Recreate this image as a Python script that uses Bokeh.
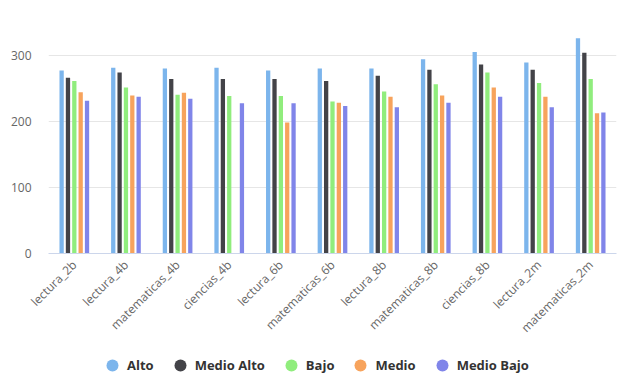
import math
from bokeh.plotting import figure
from bokeh.layouts import column
from bokeh.models import ColumnDataSource, FactorRange, Range1d, Legend, LegendItem
from bokeh.transform import dodge
from bokeh.embed import file_html
from bokeh.resources import INLINE

categories = ["lectura_2b", "lectura_4b", "matematicas_4b", "ciencias_4b", "lectura_6b",
              "matematicas_6b", "lectura_8b", "matematicas_8b", "ciencias_8b", "lectura_2m",
              "matematicas_2m"]
alto = [278, 282, 281, 282, 278, 281, 281, 295, 306, 290, 327]
medio_alto = [267, 275, 265, 265, 265, 262, 270, 279, 287, 279, 305]
bajo = [262, 252, 241, 239, 239, 231, 246, 257, 275, 259, 265]
medio = [245, 240, 244, float("nan"), 199, 229, 238, 240, 252, 238, 213]
medio_bajo = [232, 238, 235, 228, 228, 224, 222, 229, 238, 222, 214]

series_names = ["Alto", "Medio Alto", "Bajo", "Medio", "Medio Bajo"]
series_values = [alto, medio_alto, bajo, medio, medio_bajo]
colors = ["#7cb5ec", "#434348", "#90ed7d", "#f7a35c", "#8085e9"]

data = {"cat": categories}
for name, vals in zip(series_names, series_values):
    data[name] = vals
source = ColumnDataSource(data)

FONT = "Open Sans"
MAIN_H = 344

p = figure(x_range=FactorRange(*categories, range_padding=0),
           y_range=Range1d(0, 369),
           width=627, height=MAIN_H, output_backend="svg", toolbar_location=None,
           min_border_left=48, min_border_right=11, min_border_top=10, min_border_bottom=91)
p.outline_line_color = None
p.background_fill_color = "white"
p.border_fill_color = "white"

pitch = 0.123
bw = 0.083
for i, (name, col) in enumerate(zip(series_names, colors)):
    p.vbar(x=dodge("cat", (i - 2) * pitch, range=p.x_range), top=name, width=bw,
           source=source, fill_color=col, line_color=None)

p.xaxis.major_label_orientation = math.pi / 4
p.xaxis.major_label_text_font = FONT
p.xaxis.major_label_text_font_size = "12px"
p.xaxis.major_label_text_color = "#666666"
p.xaxis.axis_line_color = "#ccd6eb"
p.xaxis.major_tick_line_color = None
p.xaxis.minor_tick_line_color = None
p.xaxis.major_label_standoff = 3

p.yaxis.ticker = [0, 100, 200, 300]
p.yaxis.axis_line_color = None
p.yaxis.major_tick_line_color = None
p.yaxis.minor_tick_line_color = None
p.yaxis.major_label_text_font = FONT
p.yaxis.major_label_text_font_size = "12px"
p.yaxis.major_label_text_color = "#666666"
p.yaxis.major_label_standoff = 11

p.xgrid.grid_line_color = None
p.ygrid.grid_line_color = "#e6e6e6"
p.ygrid.ticker = [0, 100, 200, 300]

# legend strip
lg = figure(width=627, height=376 - MAIN_H, output_backend="svg", toolbar_location=None,
            x_range=Range1d(0, 1), y_range=Range1d(0, 1),
            min_border_left=0, min_border_right=0, min_border_top=0, min_border_bottom=0)
lg.axis.visible = False
lg.grid.visible = False
lg.outline_line_color = None
lg.border_fill_color = "white"
lg_src = ColumnDataSource({"x": [float("nan")], "y": [float("nan")]})
items = []
for name, col in zip(series_names, colors):
    r = lg.scatter(x="x", y="y", source=lg_src, marker="circle", fill_color=col, line_color=None)
    items.append(LegendItem(label=name, renderers=[r]))
legend = Legend(items=items, orientation="horizontal", location=(49, -4),
                glyph_width=30, glyph_height=30, label_standoff=0, spacing=11,
                label_text_font=FONT, label_text_font_style="bold",
                label_text_font_size="13px", label_text_color="#333333",
                border_line_color=None, background_fill_alpha=0,
                padding=0, margin=0)
lg.add_layout(legend, "center")

open("out.html", "w").write(file_html(column(p, lg), INLINE))
